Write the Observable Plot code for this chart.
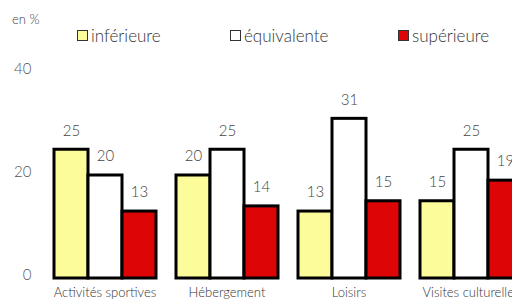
<!DOCTYPE html>
<html>
<head>
<meta charset="utf-8">
<script src="https://cdn.jsdelivr.net/npm/d3@7"></script>
<script src="https://cdn.jsdelivr.net/npm/@observablehq/plot@0.6"></script>
<style>
  html, body { margin: 0; padding: 0; background: #fff; overflow: hidden; width: 512px; height: 300px; }
  body { font-family: Lato, "Open Sans", sans-serif; font-weight: 300; color: #333; }
  #head { position: relative; height: 50px; }
  .unit { position: absolute; left: 12px; top: 11px; font-size: 13px; color: #444; }
  .leg { position: absolute; top: 25px; font-size: 17px; display: flex; align-items: center; color: #333; }
  .sw { width: 9px; height: 9px; border: 1.5px solid #333; margin-right: 3px; }
  #chart svg { display: block; }
</style>
</head>
<body>
<div id="head"></div>
<div id="chart"></div>
<script>
const categories = ["Activités sportives", "Hébergement", "Loisirs", "Visites culturelles"];
const series = ["inférieure", "équivalente", "supérieure"];
const inferieure = [25, 20, 13, 15];
const equivalente = [20, 25, 31, 25];
const superieure = [13, 14, 15, 19];
const colors = ["#fcfc9a", "#ffffff", "#dd0505"];
const yTicks = [0, 20, 40];

const values = [inferieure, equivalente, superieure];
const data = [];
categories.forEach((c, i) => series.forEach((s, j) => data.push({cat: c, series: s, value: values[j][i]})));

// legend
const head = document.getElementById("head");
const unit = document.createElement("div");
unit.className = "unit"; unit.textContent = "en %";
head.appendChild(unit);
const legX = [77, 230, 398];
series.forEach((s, j) => {
  const d = document.createElement("div");
  d.className = "leg"; d.style.left = legX[j] + "px";
  const sw = document.createElement("span");
  sw.className = "sw"; sw.style.background = colors[j];
  const t = document.createElement("span"); t.textContent = s;
  d.appendChild(sw); d.appendChild(t);
  head.appendChild(d);
});

const chart = Plot.plot({
  width: 512,
  height: 250,
  marginLeft: 53,
  marginRight: -10,
  marginTop: 22,
  marginBottom: 22,
  style: {fontFamily: "Lato, 'Open Sans', sans-serif", fontWeight: 300, color: "#333", overflow: "hidden"},
  fx: {domain: categories, paddingInner: 0.156, paddingOuter: 0, label: null},
  x: {domain: series, padding: 0, axis: null},
  y: {domain: [0, 40], ticks: yTicks, label: null},
  color: {domain: series, range: colors},
  marks: [
    Plot.axisY({ticks: yTicks, tickSize: 0, tickPadding: 22, fontSize: 15, dy: -3, label: null, fill: "#555"}),
    Plot.axisFx({anchor: "bottom", tickSize: 0, tickPadding: 9, fontSize: 13, label: null, fill: "#333"}),
    Plot.ruleY([0], {stroke: "#ccc", strokeWidth: 1}),
    Plot.barY(data, {fx: "cat", x: "series", y: "value", fill: "series", stroke: "#000", strokeWidth: 3}),
    Plot.text(data, {fx: "cat", x: "series", y: "value", text: d => String(d.value), dy: -19, fontSize: 15, fill: "#444"})
  ]
});
document.getElementById("chart").appendChild(chart);
</script>
</body>
</html>
